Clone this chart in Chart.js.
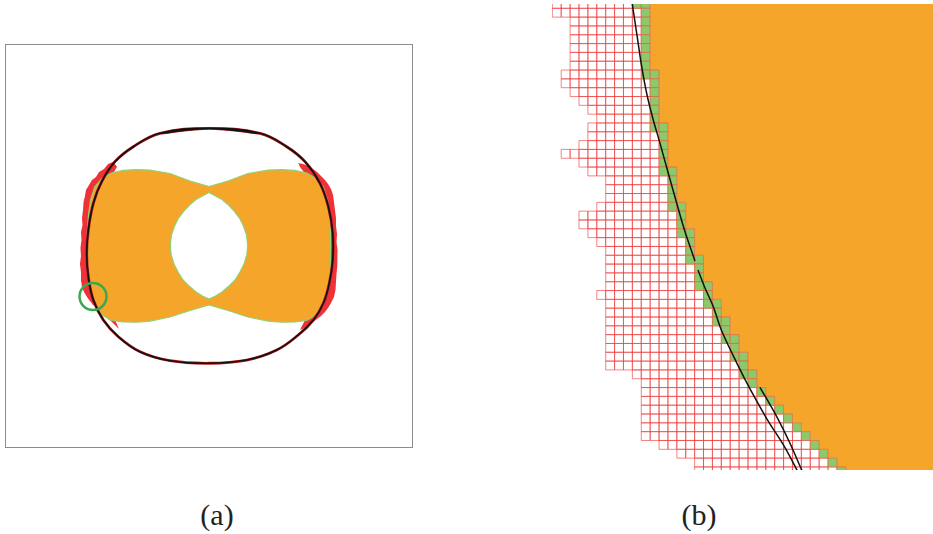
<!DOCTYPE html>
<html>
<head>
<meta charset="utf-8">
<script src="https://cdn.jsdelivr.net/npm/chart.js@4.4.1/dist/chart.umd.min.js"></script>
<style>
  html, body { margin: 0; padding: 0; background: #fff; }
  #page { position: relative; width: 933px; height: 534px; overflow: hidden; background: #fff; }
  #frameA { position: absolute; left: 5px; top: 44px; width: 408px; height: 404px;
            border: 1px solid #8c8c8c; box-sizing: border-box; }
  #canvasA { position: absolute; left: 0; top: 0; }
  #canvasB { position: absolute; left: 552px; top: 4px; }
  .cap { position: absolute; top: 498px; font-family: 'Liberation Serif', 'DejaVu Serif', serif;
         font-size: 30px; color: #222; transform: translateX(-50%); white-space: nowrap; }
</style>
</head>
<body>
<div id="page">
  <div id="frameA"><canvas id="canvasA" width="406" height="402"></canvas></div>
  <canvas id="canvasB" width="381" height="466"></canvas>
  <div class="cap" id="capA" style="left:217px"></div>
  <div class="cap" id="capB" style="left:699px"></div>
</div>
<script>
// ---------- Panel (a): whole domain, coordinates in domain units ----------
const interfaceCurve = [
  [0,1.165],[0.5,1.116],[0.762,0.983],[0.941,0.835],[1.088,0.621],[1.170,0.389],
  [1.213,0.126],[1.213,-0.139],[1.179,-0.369],[1.121,-0.567],[1.023,-0.733],[0.875,-0.881],
  [0.664,-1.030],[0.370,-1.129],[0,-1.161],[-0.382,-1.136],[-0.676,-1.047],[-0.889,-0.898],
  [-1.036,-0.733],[-1.134,-0.535],[-1.183,-0.304],[-1.199,-0.072],[-1.183,0.158],[-1.134,0.423],
  [-1.052,0.637],[-0.922,0.835],[-0.742,0.983],[-0.480,1.116],[0,1.165]
];
const bodyOuter = [
  [0,0.589],[0.186,0.644],[0.382,0.718],[0.578,0.752],[0.709,0.757],[0.843,0.748],[0.958,0.723],
  [1.049,0.668],[1.121,0.584],[1.162,0.455],[1.181,0.307],[1.191,0.149],[1.194,-0.005],
  [1.191,-0.158],[1.181,-0.317],[1.157,-0.475],[1.113,-0.599],[1.039,-0.688],[0.958,-0.738],
  [0.843,-0.752],[0.709,-0.755],[0.578,-0.743],[0.382,-0.703],[0.186,-0.639],[0,-0.584],
  [-0.186,-0.639],[-0.382,-0.703],[-0.578,-0.743],[-0.709,-0.755],[-0.843,-0.752],[-0.958,-0.738],
  [-1.039,-0.688],[-1.113,-0.599],[-1.157,-0.475],[-1.181,-0.317],[-1.191,-0.158],[-1.194,-0.005],
  [-1.191,0.149],[-1.181,0.307],[-1.162,0.455],[-1.121,0.584],[-1.049,0.668],[-0.958,0.723],
  [-0.843,0.748],[-0.709,0.757],[-0.578,0.752],[-0.382,0.718],[-0.186,0.644],[0,0.589]
];
const bodyHole = [
  [0,0.530],[0.064,0.495],[0.127,0.460],[0.191,0.406],[0.245,0.347],[0.299,0.277],[0.338,0.198],
  [0.368,0.109],[0.379,0.010],[0.371,-0.089],[0.343,-0.178],[0.304,-0.257],[0.255,-0.337],
  [0.196,-0.396],[0.127,-0.455],[0.064,-0.495],[0,-0.525],[-0.064,-0.495],[-0.127,-0.455],
  [-0.196,-0.396],[-0.255,-0.337],[-0.304,-0.257],[-0.343,-0.178],[-0.371,-0.089],[-0.379,0.010],
  [-0.368,0.109],[-0.338,0.198],[-0.299,0.277],[-0.245,0.347],[-0.191,0.406],[-0.127,0.460],
  [-0.064,0.495],[0,0.530]
];
const errorLeft = [
  [-0.938,0.835],[-0.990,0.812],[-1.029,0.762],[-1.078,0.733],[-1.108,0.683],[-1.147,0.653],
  [-1.176,0.604],[-1.206,0.554],[-1.216,0.495],[-1.230,0.436],[-1.235,0.356],[-1.245,0.277],
  [-1.240,0.208],[-1.255,0.139],[-1.250,0.059],[-1.260,-0.020],[-1.255,-0.099],[-1.265,-0.178],
  [-1.255,-0.257],[-1.255,-0.337],[-1.245,-0.406],[-1.225,-0.455],[-1.196,-0.505],[-1.167,-0.545],
  [-1.137,-0.584],[-1.098,-0.614],[-1.069,-0.653],[-1.029,-0.683],[-0.990,-0.723],[-0.951,-0.752],
  [-0.912,-0.792],[-0.882,-0.822],
  [-0.912,-0.752],[-1.010,-0.535],[-1.069,0],[-1.029,0.505],[-0.971,0.673],[-0.902,0.782],
  [-0.938,0.835]
];
const errorRight = [
  [0.875,0.822],[0.922,0.812],[0.971,0.792],[1.020,0.762],[1.059,0.733],[1.098,0.693],
  [1.137,0.653],[1.167,0.614],[1.196,0.564],[1.216,0.505],[1.225,0.436],[1.235,0.356],
  [1.245,0.277],[1.245,0.198],[1.255,0.119],[1.250,0.040],[1.260,-0.040],[1.255,-0.119],
  [1.260,-0.198],[1.250,-0.277],[1.245,-0.356],[1.240,-0.436],[1.225,-0.505],[1.196,-0.564],
  [1.167,-0.614],[1.137,-0.653],[1.098,-0.693],[1.059,-0.723],[1.020,-0.752],[0.980,-0.782],
  [0.941,-0.812],[0.892,-0.832],
  [0.951,-0.713],[1.069,-0.535],[1.108,0],[1.069,0.505],[0.951,0.703],[0.892,0.782],
  [0.875,0.822]
];
const zoomMarker = [[-1.137,-0.5]];
const domainA = [-1.99, 1.99];

// ---------- Panel (b): close-up, coordinates in grid cells ----------
const rowIndex = [-1,0,1,2,3,4,5,6,7,8,9,10,11,12,13,14,15,16,17,18,19,20,21,22,23,24,25,26,
  27,28,29,30,31,32,33,34,35,36,37,38,39,40,41,42,43,44,45,46,47,48,49,50,51,52];
const firstOuterCol = [0,0,2,2,2,2,2,2,1,1,2,3,4,5,4,4,3,1,3,4,6,6,6,5,3,3,4,5,
  6,6,6,6,6,5,6,6,6,6,6,6,6,6,9,10,10,10,10,10,10,10,12,14,16,16];
const firstCutCol = [9,10,10,10,10,10,10,10,10,11,11,11,11,11,11,12,12,12,12,12,13,13,13,13,14,14,14,15,
  15,15,16,16,16,17,17,18,18,19,19,20,20,21,21,22,23,24,25,26,27,28,29,30,31,32];
const firstInnerCol = [11,11,11,11,11,11,11,11,12,12,12,12,12,12,13,13,13,13,13,14,14,14,14,15,15,15,16,16,
  16,17,17,17,18,18,19,19,20,20,21,21,22,22,23,23,24,25,26,27,28,29,30,31,32,33];
const gridCols = 43;
const curveMainUpper = [
  [8.93,-0.94],[8.99,-0.49],[9.52,3.03],[10.05,6.62],[10.65,9.83],[11.35,12.66],[12.11,15.31],
  [13.04,18.71],[13.99,22.11],[14.86,25.14],[16.04,28.65]
];
const curveMainLower = [
  [16.38,29.67],[17.17,31.71],[18.10,33.83],[19.00,36.47],[20.76,40.25],[22.23,43.16],
  [24.10,46.51],[26.16,49.80],[27.51,52.35],[27.73,52.80]
];
const curveSecond = [[23.35,42.97],[25.23,46.30],[26.72,49.32],[28.04,52.35],[28.24,52.80]];
const viewB = { x: [-0.034, 42.80], y: [-0.4875, 52.347] };

const panelLabels = ['(a)', '(b)'];

// ---------- colours ----------
const ORANGE = '#f6a52b';
const RED = '#ee3338';
const EDGE_GREEN = '#93d070';
const CELL_GREEN = '#8cc96b';

const toXY = arr => arr.map(([x, y]) => ({ x, y }));
// closed smooth loop: pad with the neighbours across the seam so the spline has no kink there
const wrapLoop = arr => [arr[arr.length - 2], ...arr, arr[1]];

function path(data, opts) {
  return Object.assign({
    data: toXY(data), showLine: true, pointRadius: 0, pointHoverRadius: 0,
    borderWidth: 0, fill: false, tension: 0, clip: 0
  }, opts);
}

const hiddenAxes = (xr, yr, rev) => ({
  x: { type: 'linear', min: xr[0], max: xr[1], display: false },
  y: { type: 'linear', min: yr[0], max: yr[1], display: false, reverse: !!rev }
});

const baseOptions = {
  responsive: false, animation: false, events: [],
  layout: { padding: 0, autoPadding: false },
  plugins: { legend: { display: false }, tooltip: { enabled: false }, title: { display: false } }
};

// Panel (a)
new Chart(document.getElementById('canvasA'), {
  type: 'scatter',
  data: {
    datasets: [
      path(errorLeft,  { fill: 'shape', backgroundColor: RED, order: 50 }),
      path(errorRight, { fill: 'shape', backgroundColor: RED, order: 50 }),
      path(bodyOuter,  { fill: 'shape', backgroundColor: ORANGE, borderColor: EDGE_GREEN, borderWidth: 1.2, order: 40 }),
      path(bodyHole,   { fill: 'shape', backgroundColor: '#ffffff', borderColor: EDGE_GREEN, borderWidth: 1.2, order: 30 }),
      path(wrapLoop(interfaceCurve), { borderColor: '#b81e1e', borderWidth: 2.8, tension: 0.4, order: 20 }),
      path(wrapLoop(interfaceCurve), { borderColor: '#111111', borderWidth: 1.6, tension: 0.4, order: 10 }),
      { data: toXY(zoomMarker), showLine: false, pointStyle: 'circle', pointRadius: 13.5,
        pointBorderWidth: 2.5, pointBorderColor: '#3aa84f', pointBackgroundColor: 'rgba(0,0,0,0)',
        pointHoverRadius: 13.5, clip: 0, order: 0 }
    ]
  },
  options: Object.assign({}, baseOptions, { scales: hiddenAxes(domainA, domainA, false) })
});

// Panel (b): cells built from the per-row column ranges
const outerCells = [], cutCells = [];
rowIndex.forEach((r, i) => {
  for (let c = firstOuterCol[i]; c < firstCutCol[i]; c++) outerCells.push({ x: c + 0.5, y: r + 0.5 });
  for (let c = firstCutCol[i]; c < firstInnerCol[i]; c++) cutCells.push({ x: c + 0.5, y: r + 0.5 });
});
const innerEdge = [[gridCols, rowIndex[0]]];
rowIndex.forEach((r, i) => { innerEdge.push([firstInnerCol[i], r], [firstInnerCol[i], r + 1]); });
innerEdge.push([gridCols, rowIndex[rowIndex.length - 1] + 1], [gridCols, rowIndex[0]]);

function cellRadius(ctx) {
  const sx = ctx.chart.scales.x, sy = ctx.chart.scales.y;
  const w = Math.abs(sx.getPixelForValue(1) - sx.getPixelForValue(0));
  const h = Math.abs(sy.getPixelForValue(1) - sy.getPixelForValue(0));
  return (w + h) / 2 / Math.SQRT2;
}

new Chart(document.getElementById('canvasB'), {
  type: 'scatter',
  data: {
    datasets: [
      path(innerEdge, { fill: 'shape', backgroundColor: ORANGE, order: 40 }),
      { data: outerCells, showLine: false, pointStyle: 'rect', pointRadius: cellRadius,
        pointHoverRadius: cellRadius, pointBackgroundColor: 'rgba(255,255,255,0)',
        pointBorderColor: 'rgba(236,58,58,0.62)', pointBorderWidth: 1, clip: 0, order: 30 },
      { data: cutCells, showLine: false, pointStyle: 'rect', pointRadius: cellRadius,
        pointHoverRadius: cellRadius, pointBackgroundColor: CELL_GREEN,
        pointBorderColor: 'rgba(228,96,60,0.7)', pointBorderWidth: 1, clip: 0, order: 20 },
      path(curveMainUpper, { borderColor: '#111111', borderWidth: 1.5, tension: 0.3, order: 0 }),
      path(curveMainLower, { borderColor: '#111111', borderWidth: 1.5, tension: 0.3, order: 0 }),
      path(curveSecond,    { borderColor: '#111111', borderWidth: 1.5, tension: 0.3, order: 0 })
    ]
  },
  options: Object.assign({}, baseOptions, { scales: hiddenAxes(viewB.x, viewB.y, true) })
});

document.getElementById('capA').textContent = panelLabels[0];
document.getElementById('capB').textContent = panelLabels[1];
</script>
</body>
</html>
